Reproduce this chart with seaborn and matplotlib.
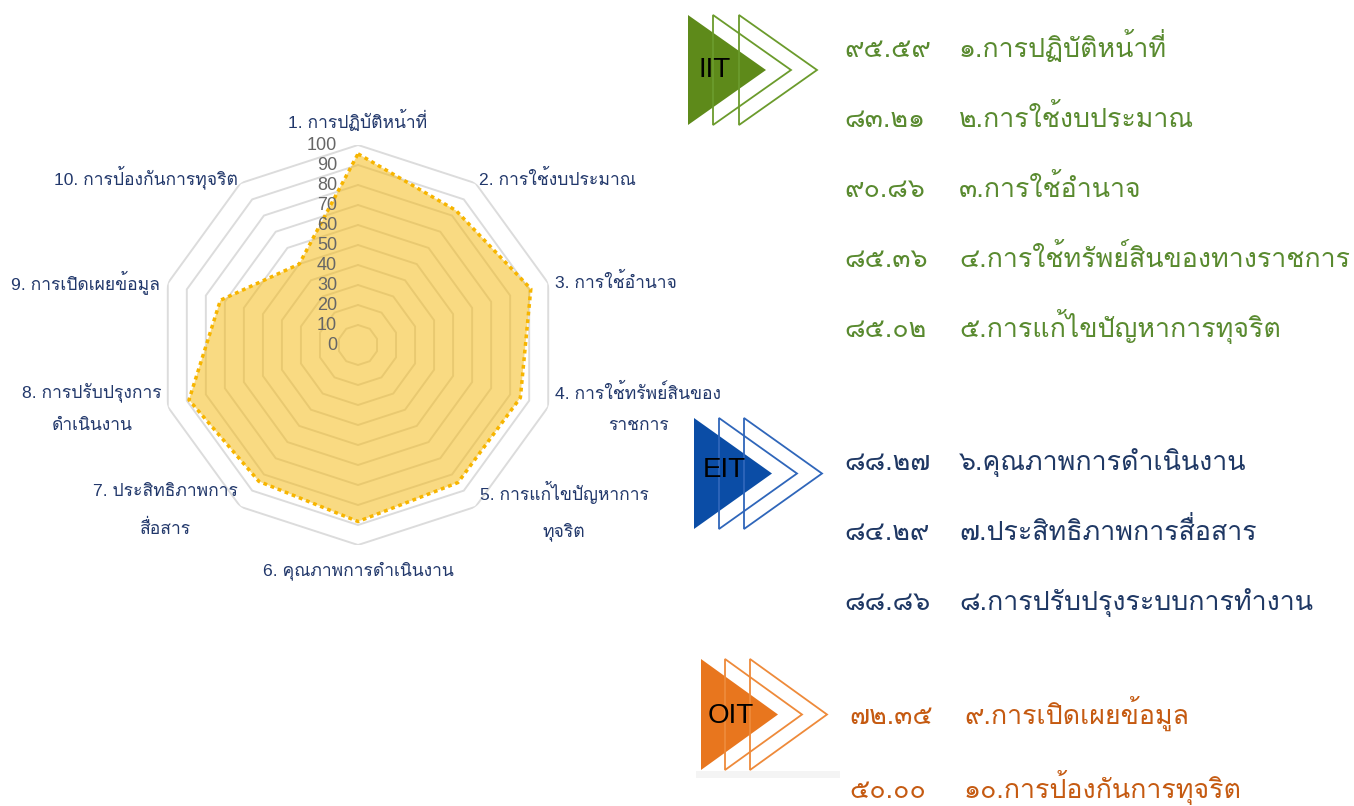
import numpy as np
import pandas as pd
import seaborn as sns
import matplotlib
matplotlib.use("Agg")
import matplotlib.pyplot as plt
from matplotlib.patches import Polygon, Rectangle
from matplotlib.transforms import offset_copy

# ---------------- data ----------------
axis_labels = [
    "1. การปฏิบัติหน้าที่",
    "2. การใช้งบประมาณ",
    "3. การใช้อำนาจ",
    "4. การใช้ทรัพย์สินของ\nราชการ",
    "5. การแก้ไขปัญหาการ\nทุจริต",
    "6. คุณภาพการดำเนินงาน",
    "7. ประสิทธิภาพการ\nสื่อสาร",
    "8. การปรับปรุงการ\nดำเนินงาน",
    "9. การเปิดเผยข้อมูล",
    "10. การป้องกันการทุจริต",
]
scores = [95.59, 83.21, 90.86, 85.36, 85.02, 88.27, 84.29, 88.86, 72.35, 50.00]
radial_ticks = [0, 10, 20, 30, 40, 50, 60, 70, 80, 90, 100]

item_names = [
    "๑.การปฏิบัติหน้าที่",
    "๒.การใช้งบประมาณ",
    "๓.การใช้อำนาจ",
    "๔.การใช้ทรัพย์สินของทางราชการ",
    "๕.การแก้ไขปัญหาการทุจริต",
    "๖.คุณภาพการดำเนินงาน",
    "๗.ประสิทธิภาพการสื่อสาร",
    "๘.การปรับปรุงระบบการทำงาน",
    "๙.การเปิดเผยข้อมูล",
    "๑๐.การป้องกันการทุจริต",
]
groups = ["IIT", "EIT", "OIT"]
group_of_item = ["IIT"] * 5 + ["EIT"] * 3 + ["OIT"] * 2

# ---------------- style ----------------
W, H, DPI = 1354, 806, 100
THAI = "Loma"
sns.set_theme(style="white")
plt.rcParams["font.family"] = ["Liberation Sans", THAI]

fig = plt.figure(figsize=(W / DPI, H / DPI), dpi=DPI)
fig.patch.set_facecolor("white")

# radar centre / radius in pixels (layout)
cx, cy, R = 358, 345, 200
ax = fig.add_axes([(cx - R) / W, (H - cy - R) / H, 2 * R / W, 2 * R / H],
                  projection="polar")
ax.set_theta_zero_location("N")
ax.set_theta_direction(-1)
ax.set_ylim(0, 100)
ax.grid(False)
ax.set_xticks([])
ax.set_yticks([])
ax.spines["polar"].set_visible(False)
ax.patch.set_alpha(0)

n = len(scores)
theta = np.linspace(0, 2 * np.pi, n, endpoint=False)
theta_closed = np.append(theta, 2 * np.pi)

# decagon grid rings
for t in radial_ticks[1:]:
    ax.plot(theta_closed, [t] * (n + 1), color="#DCDCDC", lw=1.4, zorder=1,
            solid_joinstyle="miter")

df = pd.DataFrame({"theta": theta_closed, "score": scores + scores[:1]})
ax.fill(df["theta"], df["score"], color="#F5B90F", alpha=0.52, lw=0, zorder=2)
sns.lineplot(data=df, x="theta", y="score", sort=False, estimator=None, ax=ax,
             color="#F7B500", lw=2.5, linestyle=(0, (1.1, 1.1)), zorder=3)
ax.set_xlabel("")
ax.set_ylabel("")

# radial tick labels
tick_tr = offset_copy(ax.transData, fig=fig, x=-21, y=0, units="dots")
for t in radial_ticks:
    ax.text(0, t, str(t), transform=tick_tr, ha="right", va="center",
            fontsize=13, color="#666666", zorder=5,
            family=["Liberation Sans"])

# axis (point) labels
lab_style = [
    ("center", (0, 25)),
    ("left", (3, 5)),
    ("left", (7, 2)),
    ("left", (7, -1)),
    ("left", (4, -4)),
    ("center", (0, -26)),
    ("right", (-3, -4)),
    ("right", (-6, -1)),
    ("right", (-8, 1)),
    ("right", (-3, 6)),
]
for th, lab, (ha, off) in zip(theta, axis_labels, lab_style):
    ax.annotate(lab, xy=(th, 100), xytext=off, textcoords="offset pixels",
                ha=ha, va="center", multialignment="center",
                fontsize=12.6, color="#22386B", linespacing=2.3,
                annotation_clip=False)

# ---------------- right panel ----------------
ov = fig.add_axes([0, 0, 1, 1], zorder=10)
ov.set_xlim(0, W)
ov.set_ylim(H, 0)
ov.axis("off")
ov.patch.set_alpha(0)

group_style = {
    "IIT": dict(text="#598A2F", fill="#5E8A1A", edge="#6B9B2C",
                left=688, top=15, bottom=125, chev=(713, 739), tipx=766,
                lbl=(715, 70)),
    "EIT": dict(text="#1F3864", fill="#0B4DA6", edge="#2F66BA",
                left=694, top=418, bottom=529, chev=(719, 744), tipx=772,
                lbl=(724, 470)),
    "OIT": dict(text="#C55A11", fill="#E8761E", edge="#EE8A3A",
                left=701, top=659, bottom=770, chev=(725, 750), tipx=778,
                lbl=(731, 716)),
}
ov.add_patch(Rectangle((696, 771), 144, 7, color="#F4F4F4", lw=0))
for g in groups:
    s = group_style[g]
    mid = (s["top"] + s["bottom"]) / 2
    ov.add_patch(Polygon([(s["left"], s["top"]), (s["left"], s["bottom"]),
                          (s["tipx"], mid)], closed=True, color=s["fill"], lw=0))
    for k, lx in enumerate(s["chev"]):
        dx = lx - s["left"]
        ov.add_patch(Polygon([(lx, s["top"]), (lx, s["bottom"]),
                              (s["tipx"] + dx, mid)], closed=True, fill=False,
                             edgecolor=s["edge"], lw=1.3))
    ov.text(s["lbl"][0], s["lbl"][1], g, ha="center", va="center",
            fontsize=20, color="black", family=["Liberation Sans"])

thai_digits = str.maketrans("0123456789", "๐๑๒๓๔๕๖๗๘๙")
num_x = [844] * 5 + [844] * 3 + [849] * 2
name_x = [959] * 5 + [959] * 3 + [964] * 2
base_y = [57, 127, 197, 267, 337, 470, 540, 610, 724, 798]
for v, name, g, nx, tx, by in zip(scores, item_names, group_of_item,
                                  num_x, name_x, base_y):
    col = group_style[g]["text"]
    ov.text(nx, by, f"{v:.2f}".translate(thai_digits), ha="left",
            va="baseline", fontsize=19.3, color=col, family=[THAI])
    ov.text(tx, by, name, ha="left", va="baseline", fontsize=19.3, color=col,
            family=[THAI])

fig.savefig("out.png", dpi=DPI)
